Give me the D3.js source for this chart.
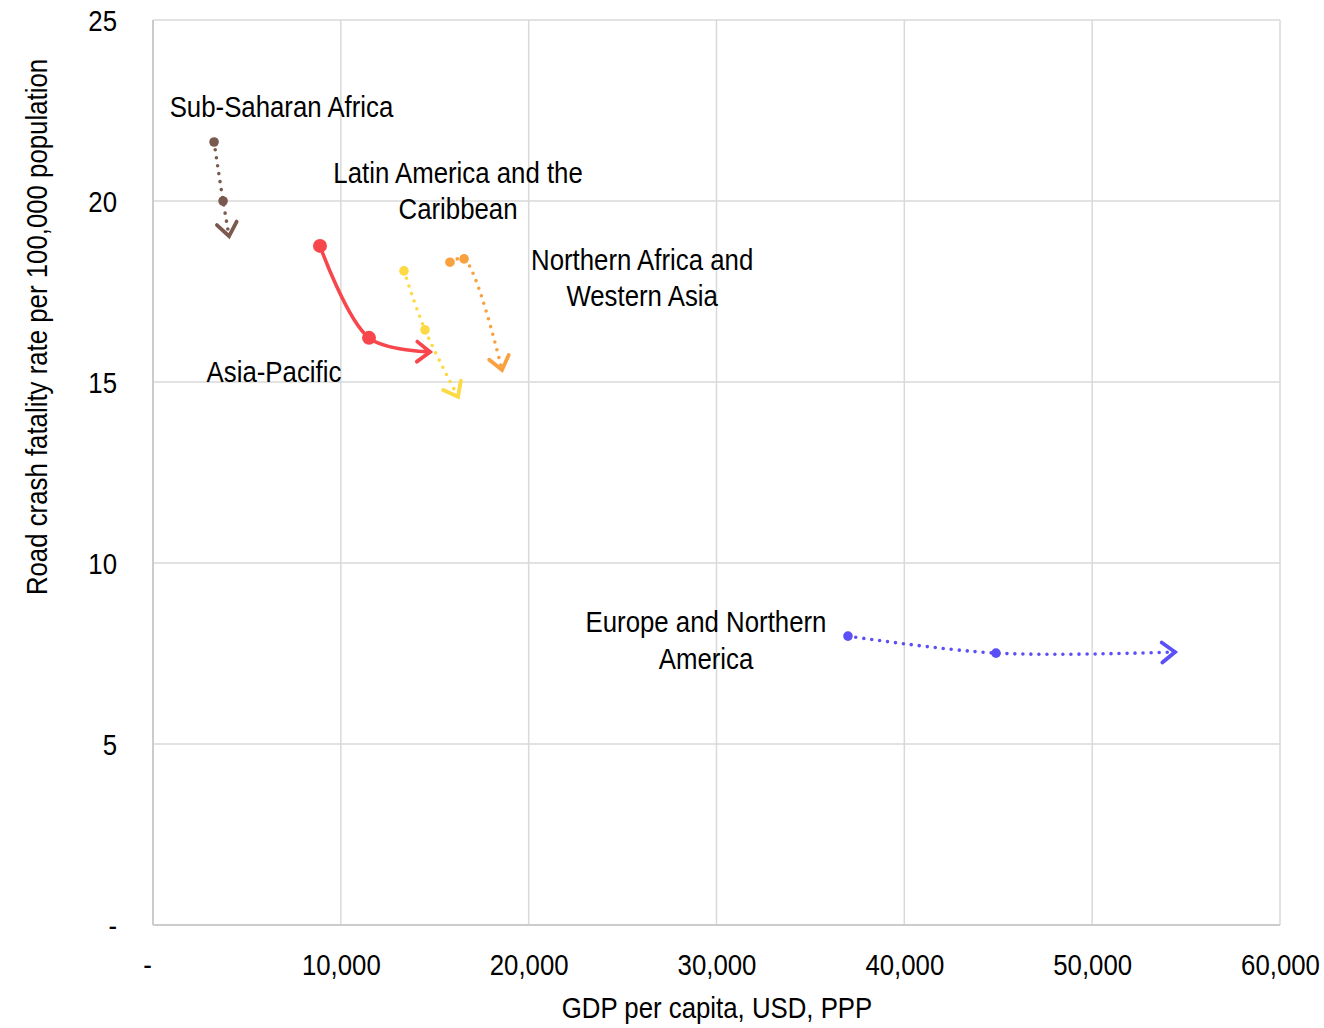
<!DOCTYPE html>
<html><head><meta charset="utf-8">
<script src="https://cdn.jsdelivr.net/npm/d3@7"></script>
<style>
body{margin:0;background:#fff;}
text{font-family:"Liberation Sans Narrow","Arial Narrow","Liberation Sans",Arial,sans-serif;fill:#000;}
</style></head>
<body><svg id="c" width="1324" height="1028"></svg>
<script>
const regions = ["Sub-Saharan Africa","Asia-Pacific","Latin America and the Caribbean","Northern Africa and Western Asia","Europe and Northern America"];
const gdp = [
  [3250, 3730, 4050],
  [8890, 11500, 14750],
  [13360, 14480, 16240],
  [15810, 16560, 18580],
  [37000, 44880, 54410]
];
const fatality = [
  [21.63, 20.0, 19.03],
  [18.76, 16.22, 15.83],
  [18.07, 16.44, 14.59],
  [18.31, 18.40, 15.33],
  [7.98, 7.51, 7.54]
];
const colors = ["#7a5a4e","#f7474d","#fdd943","#f9a03f","#5b4ff6"];
const dashed = [true,false,true,true,true];
const labelLines = [["Sub-Saharan Africa"],["Asia-Pacific"],["Latin America and the","Caribbean"],["Northern Africa and","Western Asia"],["Europe and Northern","America"]];
// label anchor (centre x, first baseline) in data units
const labelX = [6840, 6440, 16240, 26040, 29440];
const labelY = [22.32, 14.99, 20.50, 18.10, 8.09];
const xTicks = [0,10000,20000,30000,40000,50000,60000];
const yTicks = [0,5,10,15,20,25];

const FS = 30, SX = 0.86;
const svg = d3.select("#c");
const L=153,R=1280,T=20,B=925;
const x = d3.scaleLinear().domain([0,60000]).range([L,R]);
const y = d3.scaleLinear().domain([0,25]).range([B,T]);
const fmt = v => v===0 ? "-" : d3.format(",")(v);

// grid
svg.append("g").selectAll("line").data(xTicks).join("line")
  .attr("x1",d=>x(d)).attr("x2",d=>x(d)).attr("y1",T).attr("y2",B)
  .attr("stroke","#d9d9d9").attr("stroke-width",1.5);
svg.append("g").selectAll("line").data(yTicks).join("line")
  .attr("x1",L).attr("x2",R).attr("y1",d=>y(d)).attr("y2",d=>y(d))
  .attr("stroke","#d9d9d9").attr("stroke-width",1.5);
svg.append("line").attr("x1",L).attr("x2",L).attr("y1",T).attr("y2",B).attr("stroke","#c4c4c4").attr("stroke-width",1.5);
svg.append("line").attr("x1",L).attr("x2",R).attr("y1",B).attr("y2",B).attr("stroke","#c4c4c4").attr("stroke-width",1.5);

// axes
const xa = svg.append("g").attr("transform",`translate(0,${B+50})`)
  .call(d3.axisBottom(x).tickValues(xTicks).tickFormat(fmt).tickSize(0));
xa.select(".domain").remove();
xa.selectAll("text").attr("font-size",FS).attr("y",0).attr("dy",0)
  .attr("font-family",null).attr("fill","#000")
  .attr("transform",d=>d===0?`translate(-6,0) scale(${SX},1)`:`scale(${SX},1)`);
const ya = svg.append("g").attr("transform",`translate(117,0)`)
  .call(d3.axisLeft(y).tickValues(yTicks).tickFormat(fmt).tickSize(0));
ya.select(".domain").remove();
ya.selectAll("text").attr("font-size",FS).attr("x",0).attr("dy","0.34em")
  .attr("font-family",null).attr("fill","#000")
  .attr("transform",`scale(${SX},1)`);

svg.append("text").attr("transform",`translate(717,1018) scale(${SX},1)`).attr("text-anchor","middle").attr("font-size",FS).text("GDP per capita, USD, PPP");
svg.append("text").attr("transform",`translate(47,327) rotate(-90) scale(${SX},1)`).attr("text-anchor","middle").attr("font-size",FS).text("Road crash fatality rate per 100,000 population");

// markers
const defs = svg.append("defs");
colors.forEach((c,i)=>{
  defs.append("marker").attr("id","arr"+i).attr("markerUnits","userSpaceOnUse")
    .attr("viewBox","-3 -14 20 28").attr("refX",13).attr("refY",0)
    .attr("markerWidth",20).attr("markerHeight",28).attr("orient","auto")
    .append("path").attr("d","M0,-10 L13,0 L0,10").attr("fill","none")
    .attr("stroke",c).attr("stroke-width",3.8).attr("stroke-linecap","round").attr("stroke-linejoin","miter");
});

const line = d3.line().x(d=>x(d[0])).y(d=>y(d[1])).curve(d3.curveCatmullRom.alpha(0.5));
regions.forEach((r,i)=>{
  const pts = gdp[i].map((g,j)=>[g,fatality[i][j]]);
  svg.append("path").attr("d",line(pts)).attr("fill","none").attr("stroke",colors[i])
    .attr("stroke-width",3.6)
    .attr("stroke-dasharray",dashed[i]?"0 8":null).attr("stroke-linecap","round")
    .attr("marker-end",`url(#arr${i})`);
  svg.append("g").selectAll("circle").data(pts.slice(0,2)).join("circle")
    .attr("cx",d=>x(d[0])).attr("cy",d=>y(d[1])).attr("r",i===1?7:4.8).attr("fill",colors[i]);
  const t = svg.append("text").attr("text-anchor","middle").attr("font-size",FS)
    .attr("transform",`translate(${x(labelX[i])},${y(labelY[i])}) scale(${SX},1)`);
  labelLines[i].forEach((s,k)=>t.append("tspan").attr("x",0).attr("y",k*36.5).text(s));
});
</script></body></html>
